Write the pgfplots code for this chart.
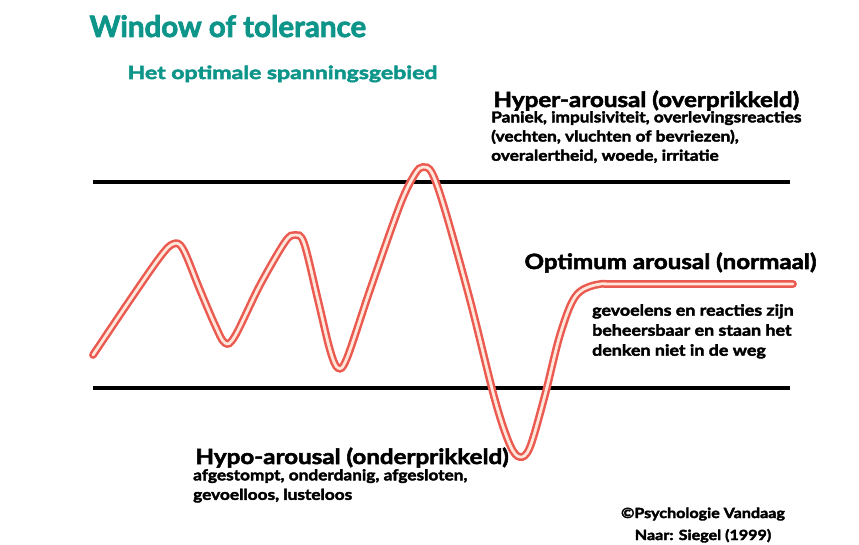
\documentclass[border=0pt]{standalone}
\usepackage{pgfplots}
\pgfplotsset{compat=1.18}
\usepackage{fontspec}
\setmainfont{Lato}[BoldFeatures={FakeBold=2.5,FakeStretch=1.15}]
\newfontfamily\subfont{Lato}[BoldFeatures={FakeBold=3,FakeStretch=1.28}]
\newfontfamily\titlefont{Lato}[BoldFeatures={FakeBold=2.5,FakeStretch=1.0}]
\definecolor{teal1}{HTML}{0E958A}
\definecolor{redline}{HTML}{EA5A50}
\definecolor{pinkin}{HTML}{FFE6DA}
\newcommand{\fs}[2]{\fontsize{#1}{#2}\selectfont}
\begin{document}
\begin{tikzpicture}
\begin{axis}[
  width=859pt, height=544pt, scale only axis,
  xmin=0, xmax=859, ymin=0, ymax=544,
  axis lines=none, clip=false,
]
\coordinate (bl) at (axis cs:0,0);
\coordinate (tr) at (axis cs:859,544);
% window boundaries (y = 544 - pixel y)
\addplot[black, line width=3.5pt] coordinates {(93,362) (790,362)};
\addplot[black, line width=3.5pt] coordinates {(93,156) (790,156)};
% arousal curve
\addplot[draw=redline, line width=2.5pt, double=pinkin, double distance=2.8pt, smooth, tension=0.55, line cap=round] coordinates {
(93,189) (130,244) (160,287) (173,300) (183,295) (200,254) (215,219) (225,201)
(235,208) (260,259) (285,302) (295,309) (304,301) (318,244) (330,194) (338,176)
(347,186) (370,254) (400,339) (415,370) (423,377) (432,371) (445,334) (470,244)
(495,144) (510,99) (520,87) (530,97) (545,149) (560,209) (575,247) (595,259)
(625,260) (793,260)
};
\node[anchor=base west, text=teal1, font=\titlefont\fs{29.5}{30}\bfseries] at (axis cs:86,507) {Window of tolerance};
\node[anchor=base west, text=teal1, font=\subfont\fs{18}{18}\bfseries] at (axis cs:124,465) {Het optimale spanningsgebied};
\node[anchor=base west, font=\fs{21}{21}\bfseries] at (axis cs:490,437) {Hyper-arousal (overprikkeld)};
\node[anchor=north west, font=\fs{15}{19.2}\bfseries, align=left, inner sep=0pt] at (axis cs:491,433) {Paniek, impulsiviteit, overlevingsreacties\\(vechten, vluchten of bevriezen),\\overalertheid, woede, irritatie};
\node[anchor=base west, font=\fs{21}{21}\bfseries] at (axis cs:521,275) {Optimum arousal (normaal)};
\node[anchor=north west, font=\fs{15.5}{20}\bfseries, align=left, inner sep=0pt] at (axis cs:592,240) {gevoelens en reacties zijn\\beheersbaar en staan het\\denken niet in de weg};
\node[anchor=base west, font=\fs{21}{21}\bfseries] at (axis cs:192,80) {Hypo-arousal (onderprikkeld)};
\node[anchor=north west, font=\fs{15}{19.5}\bfseries, align=left, inner sep=0pt] at (axis cs:193,75) {afgestompt, onderdanig, afgesloten,\\gevoelloos, lusteloos};
\node[anchor=base, font=\fs{14}{14}\bfseries] at (axis cs:703,26) {\textcopyright Psychologie Vandaag};
\node[anchor=base, font=\fs{14}{14}\bfseries] at (axis cs:703,4) {Naar: Siegel (1999)};
\end{axis}
\pgfresetboundingbox
\path[use as bounding box] (bl) rectangle (tr);
\end{tikzpicture}
\end{document}
